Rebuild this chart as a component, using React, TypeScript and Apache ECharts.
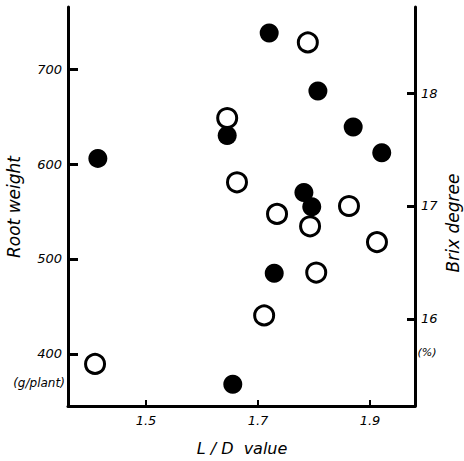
import React, { useEffect, useRef } from "react";
import * as echarts from "echarts";

// L/D value vs Root weight (filled circles, left axis)
const ldFilled = [1.414, 1.645, 1.655, 1.72, 1.729, 1.782, 1.796, 1.807, 1.87, 1.921];
const rootWeight = [606, 630, 368, 738, 485, 570, 555, 677, 639, 612];

// L/D value vs Brix degree (open circles, right axis)
const ldOpen = [1.409, 1.645, 1.6625, 1.711, 1.734, 1.789, 1.793, 1.804, 1.8625, 1.9125];
const brix = [15.6, 17.78, 17.21, 16.03, 16.93, 18.45, 16.82, 16.41, 17.0, 16.68];

const xTicks = [1.5, 1.7, 1.9];
const leftTicks = [400, 500, 600, 700];
const rightTicks = [16, 17, 18];

const FONT = "DejaVu Sans";

export default function App() {
  const ref = useRef<HTMLDivElement>(null);
  useEffect(() => {
    if (!ref.current) return;
    const chart = echarts.init(ref.current, null, { renderer: "svg" });
    const axisLine = { show: true, lineStyle: { color: "#000", width: 3 } };
    const label = { fontFamily: FONT, fontStyle: "italic", fontSize: 13, color: "#000" };
    chart.setOption({
      animation: false,
      backgroundColor: "#fff",
      grid: { left: 68, right: 49, top: 7, bottom: 55 },
      xAxis: {
        type: "value",
        min: 1.3607,
        max: 1.9804,
        axisLine,
        axisTick: { show: true, inside: true, length: 6, lineStyle: { width: 2, color: "#000" }, customValues: xTicks },
        axisLabel: { ...label, margin: 8, customValues: xTicks, formatter: (v: number) => v.toFixed(1) },
        splitLine: { show: false },
      },
      yAxis: [
        {
          type: "value",
          position: "left",
          min: 345.1,
          max: 765.5,
          axisLine,
          axisTick: { show: true, inside: true, length: 10, lineStyle: { width: 3, color: "#000" }, customValues: leftTicks },
          axisLabel: { ...label, margin: 6, customValues: leftTicks },
          splitLine: { show: false },
        },
        {
          type: "value",
          position: "right",
          min: 15.227,
          max: 18.764,
          axisLine,
          axisTick: { show: true, inside: true, length: 8, lineStyle: { width: 3, color: "#000" }, customValues: rightTicks },
          axisLabel: { ...label, margin: 6, customValues: rightTicks },
          splitLine: { show: false },
        },
      ],
      series: [
        {
          type: "scatter",
          yAxisIndex: 0,
          symbol: "circle",
          symbolSize: 19,
          itemStyle: { color: "#000", opacity: 1 },
          data: ldFilled.map((x, i) => [x, rootWeight[i]]),
          z: 3,
        },
        {
          type: "scatter",
          yAxisIndex: 1,
          symbol: "circle",
          symbolSize: 19,
          itemStyle: { color: "#fff", borderColor: "#000", borderWidth: 3, opacity: 1 },
          data: ldOpen.map((x, i) => [x, brix[i]]),
          z: 4,
        },
      ],
      graphic: [
        {
          type: "text",
          x: 14,
          y: 207,
          rotation: Math.PI / 2,
          style: { text: "Root weight", fontFamily: FONT, fontStyle: "italic", fontSize: 17, fill: "#000", align: "center", verticalAlign: "middle" },
        },
        {
          type: "text",
          x: 453,
          y: 223,
          rotation: Math.PI / 2,
          style: { text: "Brix degree", fontFamily: FONT, fontStyle: "italic", fontSize: 17, fill: "#000", align: "center", verticalAlign: "middle" },
        },
        {
          type: "text",
          x: 242,
          y: 448,
          style: { text: "L / D  value", fontFamily: FONT, fontStyle: "italic", fontSize: 16, fill: "#000", align: "center", verticalAlign: "middle" },
        },
        {
          type: "text",
          x: 39,
          y: 383,
          style: { text: "(g/plant)", fontFamily: FONT, fontStyle: "italic", fontSize: 12, fill: "#000", align: "center", verticalAlign: "middle" },
        },
        {
          type: "text",
          x: 427,
          y: 352,
          style: { text: "(%)", fontFamily: FONT, fontStyle: "italic", fontSize: 11, fill: "#000", align: "center", verticalAlign: "middle" },
        },
      ],
    });
    return () => chart.dispose();
  }, []);
  return <div ref={ref} style={{ width: 464, height: 461, position: "absolute", left: 0, top: 0 }} />;
}
